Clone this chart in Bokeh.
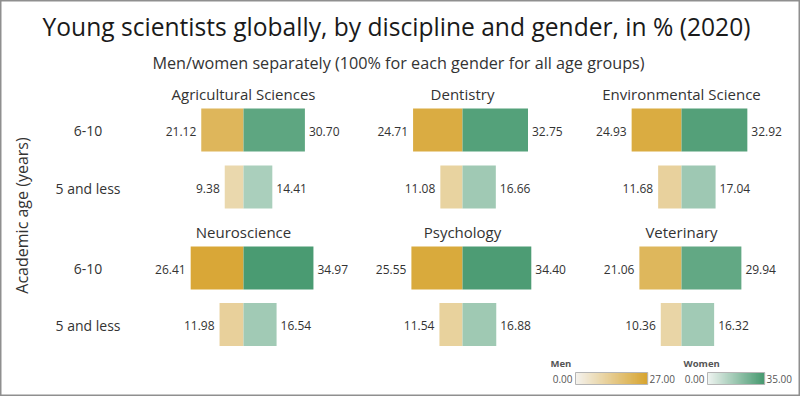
import math
import numpy as np
from bokeh.plotting import figure
from bokeh.models import Range1d, ColumnDataSource
from bokeh.transform import linear_cmap
from bokeh.core.properties import value
from bokeh.embed import file_html
from bokeh.resources import INLINE

# ---------------- data ----------------
disciplines = ["Agricultural Sciences", "Dentistry", "Environmental Science",
               "Neuroscience", "Psychology", "Veterinary"]
age_groups = ["6-10", "5 and less"]
men_6_10 = [21.12, 24.71, 24.93, 26.41, 25.55, 21.06]
women_6_10 = [30.70, 32.75, 32.92, 34.97, 34.40, 29.94]
men_5_less = [9.38, 11.08, 11.68, 11.98, 11.54, 10.36]
women_5_less = [14.41, 16.66, 17.04, 16.54, 16.88, 16.32]
men_range = [0.0, 27.0]
women_range = [0.0, 35.0]

title = "Young scientists globally, by discipline and gender, in % (2020)"
subtitle = "Men/women separately (100% for each gender for all age groups)"
y_title = "Academic age (years)"

# ---------------- layout / style ----------------
W, H = 800, 396
PX = 2.0  # pixels per percentage point
panel_cx_px = [243, 462, 681]
row_cy_px = [[129.5, 186.5], [267.5, 324.0]]
panel_title_y = [93, 231]
BAR_H = 43
FONT = "Open Sans"
TXT = "#333333"


def ramp(c0, c1, n=256):
    a = np.array([int(c0[i:i + 2], 16) for i in (1, 3, 5)], float)
    b = np.array([int(c1[i:i + 2], 16) for i in (1, 3, 5)], float)
    out = []
    for t in np.linspace(0, 1, n):
        c = a + (b - a) * t
        out.append("#%02x%02x%02x" % tuple(int(round(v)) for v in c))
    return out


men_pal = ramp("#f4f2ed", "#d8a633")
women_pal = ramp("#eef3f0", "#4a9b72")

p = figure(width=W, height=H, x_range=Range1d(0, W / PX), y_range=Range1d(H, 0),
           output_backend="svg", toolbar_location=None, min_border=0,
           x_axis_location=None, y_axis_location=None)
p.grid.visible = False
p.outline_line_color = "#8f8f8f"
p.outline_line_width = 2
p.background_fill_color = "white"
p.border_fill_color = "white"

# build bars
men_rows = dict(left=[], right=[], top=[], bottom=[], val=[], lx=[], ly=[], txt=[])
women_rows = dict(left=[], right=[], top=[], bottom=[], val=[], lx=[], ly=[], txt=[])
for i, d in enumerate(disciplines):
    g, c = divmod(i, 3)
    cx = panel_cx_px[c] / PX
    for r, (mv, wv) in enumerate([(men_6_10[i], women_6_10[i]), (men_5_less[i], women_5_less[i])]):
        cy = row_cy_px[g][r]
        men_rows["left"].append(cx - mv); men_rows["right"].append(cx)
        men_rows["top"].append(cy - BAR_H / 2); men_rows["bottom"].append(cy + BAR_H / 2)
        men_rows["val"].append(mv); men_rows["lx"].append(cx - mv - 5 / PX)
        men_rows["ly"].append(cy + 1); men_rows["txt"].append("%.2f" % mv)
        women_rows["left"].append(cx); women_rows["right"].append(cx + wv)
        women_rows["top"].append(cy - BAR_H / 2); women_rows["bottom"].append(cy + BAR_H / 2)
        women_rows["val"].append(wv); women_rows["lx"].append(cx + wv + 4 / PX)
        women_rows["ly"].append(cy + 1); women_rows["txt"].append("%.2f" % wv)

ms = ColumnDataSource(men_rows)
ws = ColumnDataSource(women_rows)
p.quad(left="left", right="right", top="top", bottom="bottom", source=ms,
       fill_color=linear_cmap("val", men_pal, men_range[0], men_range[1]), line_color=None)
p.quad(left="left", right="right", top="top", bottom="bottom", source=ws,
       fill_color=linear_cmap("val", women_pal, women_range[0], women_range[1]), line_color=None)
p.text(x="lx", y="ly", text="txt", source=ms, text_align="right", text_baseline="middle",
       text_font=value(FONT), text_font_size="12px", text_color=TXT)
p.text(x="lx", y="ly", text="txt", source=ws, text_align="left", text_baseline="middle",
       text_font=value(FONT), text_font_size="12px", text_color=TXT)

# panel titles
pt = dict(x=[], y=[], t=[])
for i, d in enumerate(disciplines):
    g, c = divmod(i, 3)
    pt["x"].append(panel_cx_px[c] / PX); pt["y"].append(panel_title_y[g]); pt["t"].append(d)
p.text(x="x", y="y", text="t", source=ColumnDataSource(pt), text_align="center",
       text_baseline="middle", text_font=value(FONT), text_font_size="15px", text_color=TXT)

# row labels
rl = dict(x=[], y=[], t=[])
for g in range(2):
    for r, a in enumerate(age_groups):
        rl["x"].append(87.5 / PX); rl["y"].append(row_cy_px[g][r] + 1); rl["t"].append(a)
p.text(x="x", y="y", text="t", source=ColumnDataSource(rl), text_align="center",
       text_baseline="middle", text_font=value(FONT), text_font_size="14px", text_color=TXT)

# titles
p.text(x=[396 / PX], y=[26], text=[title], text_align="center", text_baseline="middle",
       text_font=value(FONT), text_font_size="24.6px", text_color="#1a1a1a")
p.text(x=[398 / PX], y=[62], text=[subtitle], text_align="center", text_baseline="middle",
       text_font=value(FONT), text_font_size="16.2px", text_color=TXT)
p.text(x=[21 / PX], y=[215], text=[y_title], text_align="center", text_baseline="middle",
       angle=math.pi / 2, text_font=value(FONT), text_font_size="16px", text_color=TXT)

# legends (gradient)
def legend(x0, x1, name, lo, hi, pal, name_x):
    n = 60
    edges = np.linspace(x0, x1, n + 1) / PX
    vals = np.linspace(lo, hi, n)
    src = ColumnDataSource(dict(left=edges[:-1], right=edges[1:] + 0.6, v=vals))
    p.quad(left="left", right="right", top=372, bottom=384, source=src,
           fill_color=linear_cmap("v", pal, lo, hi), line_color=None)
    p.quad(left=[x0 / PX], right=[x1 / PX + 0.6], top=[372], bottom=[384], fill_color=None,
           line_color="#b5b5b5", line_width=1)
    p.text(x=[name_x / PX], y=[363], text=[name], text_align="left", text_baseline="middle",
           text_font=value(FONT), text_font_size="9.5px", text_font_style="bold", text_color="#555555")
    p.text(x=[(x0 - 3) / PX], y=[378.5], text=["%.2f" % lo], text_align="right",
           text_baseline="middle", text_font=value(FONT), text_font_size="10px", text_color="#555555")
    p.text(x=[(x1 + 3) / PX], y=[378.5], text=["%.2f" % hi], text_align="left",
           text_baseline="middle", text_font=value(FONT), text_font_size="10px", text_color="#555555")


legend(575, 646, "Men", men_range[0], men_range[1], men_pal, 550)
legend(707, 763, "Women", women_range[0], women_range[1], women_pal, 683)

open("out.html", "w").write(file_html(p, INLINE))
